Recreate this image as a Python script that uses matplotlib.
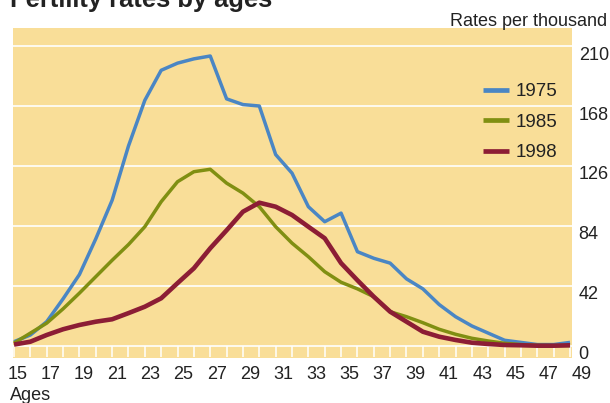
import matplotlib
matplotlib.use("Agg")
import matplotlib.pyplot as plt
from matplotlib.transforms import ScaledTranslation

plt.rcParams['font.family'] = ['Liberation Sans', 'DejaVu Sans']

# ---- data ----
ages = list(range(15, 50))
rate_1975 = [3, 7.7, 17, 33, 50, 75, 102, 140, 172, 193, 198, 201, 203, 173, 169, 168,
             134, 121, 97.5, 87, 93, 66, 61.4, 58, 47, 40, 29, 20.5, 14, 9, 4, 2.5, 1, 1, 2.5]
rate_1985 = [2, 9, 16, 26, 37, 48.5, 60, 71, 83.5, 101, 115, 122, 123.7, 114, 107, 97.5,
             83.5, 72, 62.5, 52, 44.6, 40, 34.5, 24, 20.5, 16.3, 11.7, 8.2, 5.4, 3.5, 1.9, 1, 0.5, 0.3, 0.3]
rate_1998 = [1, 3, 7.7, 11.7, 14.7, 17, 18.7, 23, 27.5, 33.4, 44, 54.4, 68.4, 81, 94, 100.3,
             97.5, 91.7, 83.5, 75.4, 58, 46, 34.5, 24, 17, 10, 6.5, 4.2, 2.3, 1.4, 0.7, 0.5, 0.2, 0.2, 0.5]
series_labels = ['1975', '1985', '1998']
x_tick_labels = list(range(15, 50, 2))
y_ticks = [0, 42, 84, 126, 168, 210]

title = 'Fertility rates by ages'
unit_label = 'Rates per thousand'
x_label = 'Ages'

# ---- style ----
bg = '#F9DE98'
colors = ['#4A86C4', '#808F12', '#8C1D35']
widths = [2.5, 2.5, 3.3]

fig = plt.figure(figsize=(6.1, 4.03), dpi=100)
ax = fig.add_axes([0.0208, 0.1117, 0.9177, 0.8181])
ax.set_facecolor(bg)
for s in ax.spines.values():
    s.set_visible(False)
ax.set_xlim(14.92, 49.15)
ax.set_ylim(-8.4, 222.4)

ax.set_yticks(y_ticks)
ax.grid(axis='y', color='white', linewidth=1.2)
ax.grid(axis='x', visible=False)
ax.set_axisbelow(True)
ax.yaxis.tick_right()
ax.tick_params(axis='y', length=0, pad=4.5, labelsize=13, colors='#222222')
for lab in ax.get_yticklabels():
    lab.set_transform(lab.get_transform() + ScaledTranslation(0, -0.07, fig.dpi_scale_trans))

# white tick marks along the bottom band
ax.vlines(ages, -7.6, 0, colors='white', linewidth=1.1, zorder=1)

ax.set_xticks(x_tick_labels)
ax.set_xticklabels([str(a) for a in x_tick_labels])
ax.tick_params(axis='x', length=0, pad=5.5, labelsize=13, colors='#222222')
for a, lab in zip(x_tick_labels, ax.get_xticklabels()):
    dx = 3.5 + (a - 15) * 0.24
    lab.set_transform(lab.get_transform() + ScaledTranslation(dx / 100, 0, fig.dpi_scale_trans))

lines = []
for vals, c, w, lbl in zip([rate_1975, rate_1985, rate_1998], colors, widths, series_labels):
    ln, = ax.plot(ages, vals, color=c, linewidth=w, label=lbl, zorder=3,
                  solid_joinstyle='round', solid_capstyle='butt')
    lines.append(ln)

leg = ax.legend(handles=lines, loc='upper left', bbox_to_anchor=(0.8396, 0.834),
                frameon=False, fontsize=13.5, handlelength=1.42, handletextpad=0.36,
                labelspacing=0.72, borderpad=0, borderaxespad=0)
for h in leg.legend_handles:
    h.set_linewidth(3.4)
for t in leg.get_texts():
    t.set_color('#222222')

fig.text(10 / 610, 1 - 6.5 / 403, title, fontsize=18.4, fontweight='bold',
         ha='left', va='baseline', color='#222222')
fig.text(607 / 610, 1 - 26 / 403, unit_label, fontsize=13, ha='right', va='baseline', color='#222222')
fig.text(10 / 610, 3 / 403, x_label, fontsize=13, ha='left', va='baseline', color='#222222')

fig.savefig('out.png', dpi=100)
